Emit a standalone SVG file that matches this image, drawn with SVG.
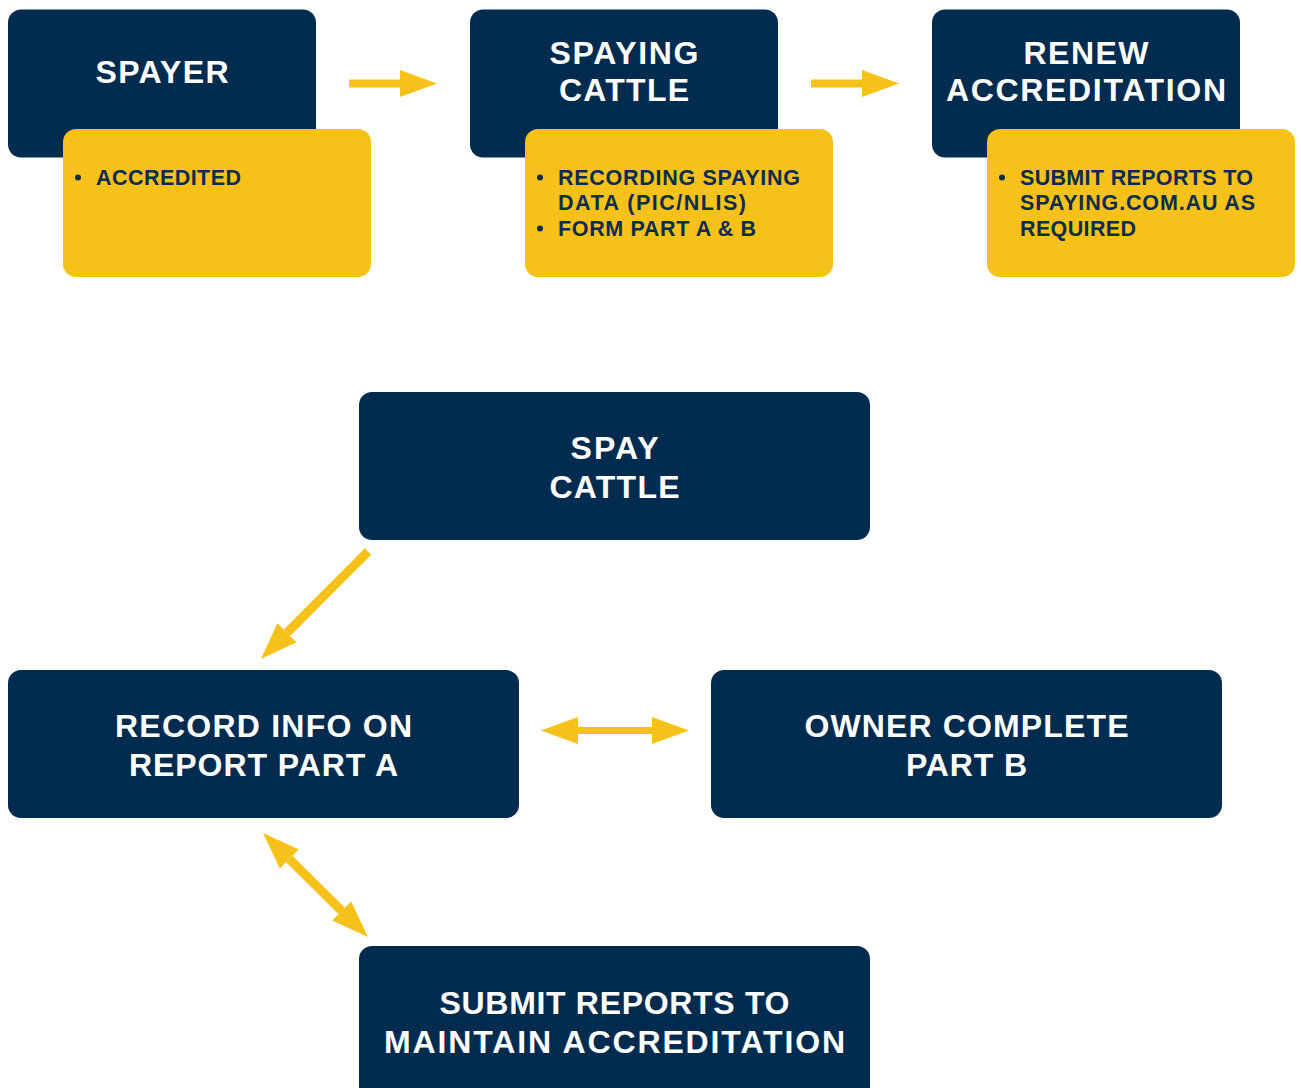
<svg xmlns="http://www.w3.org/2000/svg" width="1301" height="1088" viewBox="0 0 1301 1088">
  <style>
    .box { fill: #022c4f; }
    .note { fill: #f6c119; }
    .title { font-family: "Liberation Sans", Arial, sans-serif; font-weight: bold; font-size: 32px; fill: #ffffff; text-anchor: middle; }
    .item { font-family: "Liberation Sans", Arial, sans-serif; font-weight: bold; font-size: 21.5px; fill: #0c2c4e; }
    .bullet { fill: #0c2c4e; }
    .link { stroke: #f6c119; fill: none; }
  </style>
  <defs>
    <marker id="head" viewBox="0 0 37 27" refX="0" refY="13.5" markerWidth="37" markerHeight="27" markerUnits="userSpaceOnUse" orient="auto-start-reverse">
      <path d="M0,0 L37,13.5 L0,27 Z" fill="#f6c119"/>
    </marker>
  </defs>

  <rect width="1301" height="1088" fill="#ffffff"/>

  <!-- top row: stage cards with notes -->
  <g id="spayer">
    <rect class="box" x="8" y="9.5" width="308" height="148" rx="13"/>
    <text class="title" x="162" y="83" textLength="133" lengthAdjust="spacing">SPAYER</text>
  </g>
  <g id="spayer-note">
    <rect class="note" x="63" y="129" width="308" height="148" rx="13"/>
    <circle class="bullet" cx="78" cy="177.5" r="3"/>
    <text class="item" x="96" y="185" textLength="145" lengthAdjust="spacing">ACCREDITED</text>
  </g>

  <g id="spaying-cattle">
    <rect class="box" x="470" y="9.5" width="308" height="148" rx="13"/>
    <text class="title" x="624" y="63.5" textLength="149" lengthAdjust="spacing">SPAYING</text>
    <text class="title" x="624" y="101" textLength="130" lengthAdjust="spacing">CATTLE</text>
  </g>
  <g id="spaying-cattle-note">
    <rect class="note" x="525" y="129" width="308" height="148" rx="13"/>
    <circle class="bullet" cx="540" cy="177.5" r="3"/>
    <text class="item" x="558" y="185" textLength="242" lengthAdjust="spacing">RECORDING SPAYING</text>
    <text class="item" x="558" y="210" textLength="188" lengthAdjust="spacing">DATA (PIC/NLIS)</text>
    <circle class="bullet" cx="540" cy="228.5" r="3"/>
    <text class="item" x="558" y="236" textLength="198" lengthAdjust="spacing">FORM PART A &amp; B</text>
  </g>

  <g id="renew">
    <rect class="box" x="932" y="9.5" width="308" height="148" rx="13"/>
    <text class="title" x="1086" y="63.5" textLength="125" lengthAdjust="spacing">RENEW</text>
    <text class="title" x="1086" y="101" textLength="280" lengthAdjust="spacing">ACCREDITATION</text>
  </g>
  <g id="renew-note">
    <rect class="note" x="987" y="129" width="308" height="148" rx="13"/>
    <circle class="bullet" cx="1002" cy="177.5" r="3"/>
    <text class="item" x="1020" y="185" textLength="233" lengthAdjust="spacing">SUBMIT REPORTS TO</text>
    <text class="item" x="1020" y="210" textLength="235" lengthAdjust="spacing">SPAYING.COM.AU AS</text>
    <text class="item" x="1020" y="236" textLength="116" lengthAdjust="spacing">REQUIRED</text>
  </g>

  <!-- lower cycle -->
  <g id="spay-cattle">
    <rect class="box" x="359" y="392" width="511" height="148" rx="13"/>
    <text class="title" x="614.5" y="459" textLength="88" lengthAdjust="spacing">SPAY</text>
    <text class="title" x="614.5" y="498" textLength="130" lengthAdjust="spacing">CATTLE</text>
  </g>
  <g id="record-info">
    <rect class="box" x="8" y="670" width="511" height="148" rx="13"/>
    <text class="title" x="263.5" y="737" textLength="297" lengthAdjust="spacing">RECORD INFO ON</text>
    <text class="title" x="263.5" y="776" textLength="269" lengthAdjust="spacing">REPORT PART A</text>
  </g>
  <g id="owner-complete">
    <rect class="box" x="711" y="670" width="511" height="148" rx="13"/>
    <text class="title" x="966.5" y="737" textLength="324" lengthAdjust="spacing">OWNER COMPLETE</text>
    <text class="title" x="966.5" y="776" textLength="121" lengthAdjust="spacing">PART B</text>
  </g>
  <g id="submit-reports">
    <rect class="box" x="359" y="946" width="511" height="170" rx="13"/>
    <text class="title" x="614.5" y="1014" textLength="350" lengthAdjust="spacing">SUBMIT REPORTS TO</text>
    <text class="title" x="614.5" y="1053" textLength="461" lengthAdjust="spacing">MAINTAIN ACCREDITATION</text>
  </g>

  <!-- connectors -->
  <g id="connectors">
    <line class="link" x1="349" y1="83.5" x2="400" y2="83.5" stroke-width="8" marker-end="url(#head)"/>
    <line class="link" x1="811" y1="83.5" x2="862" y2="83.5" stroke-width="8" marker-end="url(#head)"/>
    <line class="link" x1="368" y1="551.5" x2="287" y2="632.7" stroke-width="9" marker-end="url(#head)"/>
    <line class="link" x1="578" y1="730.5" x2="652" y2="730.5" stroke-width="7" marker-start="url(#head)" marker-end="url(#head)"/>
    <line class="link" x1="289.3" y1="859" x2="341.7" y2="911" stroke-width="9" marker-start="url(#head)" marker-end="url(#head)"/>
  </g>
</svg>
